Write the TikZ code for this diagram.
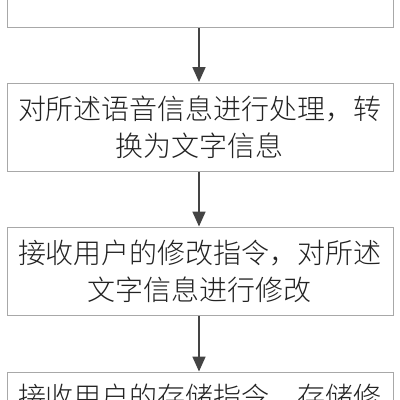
\documentclass[tikz,border=0pt]{standalone}
\usepackage{fontspec}
\newfontfamily\cjk{Noto Sans CJK SC Light}
\usetikzlibrary{arrows.meta}
\definecolor{boxgray}{HTML}{A8A8A8}
\definecolor{txtgray}{HTML}{222222}
\definecolor{arrgray}{HTML}{444444}
\tikzset{
  stepbox/.style={draw=boxgray, line width=1pt, rectangle, inner sep=0pt,
    minimum width=386pt, minimum height=88pt, align=center, text=txtgray,
    font=\cjk\fontsize{28}{37}\selectfont},
  flowarrow/.style={draw=arrgray, line width=1.8pt,
    -{Triangle[length=15pt,width=13pt]}, shorten >=0.5pt}
}
\begin{document}
\begin{tikzpicture}[x=1pt,y=-1pt]
\useasboundingbox (0,0) rectangle (400,400);
\fill[white] (0,0) rectangle (400,400);
\clip (0,0) rectangle (400,400);
\node[stepbox, anchor=south] (b1) at (200,28) {};
\node[stepbox] (b2) at (200,127) {对所述语音信息进行处理，转\\换为文字信息};
\node[stepbox] (b3) at (200,271.5) {接收用户的修改指令，对所述\\文字信息进行修改};
\node[stepbox, minimum height=0pt, text height=34.6pt, text depth=53pt, anchor=north] (b4) at (200,372) {接收用户的存储指令，存储修};
\draw[flowarrow] (b1.south -| 199,0) -- (b2.north -| 199,0);
\draw[flowarrow] (b2.south -| 199,0) -- (b3.north -| 199,0);
\draw[flowarrow] (b3.south -| 199,0) -- (b4.north -| 199,0);
\end{tikzpicture}
\end{document}
